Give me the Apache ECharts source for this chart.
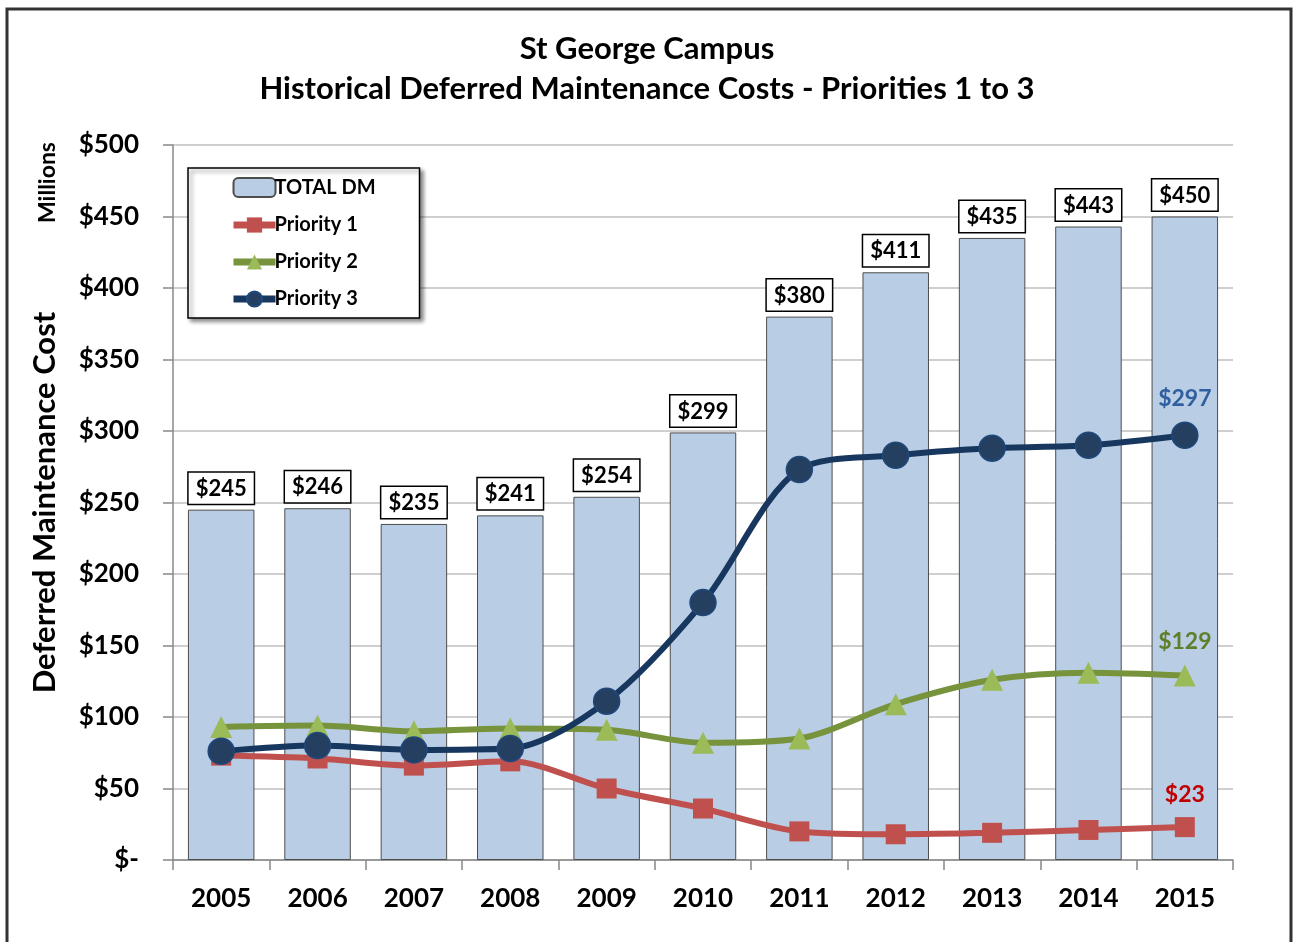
<!DOCTYPE html>
<html>
<head>
<meta charset="utf-8">
<script src="https://cdn.jsdelivr.net/npm/echarts@6/dist/echarts.min.js"></script>
<style>html,body{margin:0;padding:0;background:#fff}#c{width:1294px;height:942px}</style>
</head>
<body>
<div id="c"></div>
<script>
const years = ['2005','2006','2007','2008','2009','2010','2011','2012','2013','2014','2015'];
const totalDM = [245,246,235,241,254,299,380,411,435,443,450];
const priority1 = [73,71,66,69,50,36,20,18,19,21,23];
const priority2 = [93,94,90,92,91,82,85,109,126,131,129];
const priority3 = [76,80,77,78,111,180,273,283,288,290,297];
const yTicks = [0,50,100,150,200,250,300,350,400,450,500];

const F = 'Lato, "Open Sans", sans-serif';
function lastLabel(arr, color) {
  return arr.map((v, i) => i === arr.length - 1 ? {
    value: v,
    label: {show: true, position: 'top', distance: 11, formatter: '$' + v, color: color,
      fontFamily: F, fontWeight: 'bold', fontSize: 23}
  } : v);
}
const chart = echarts.init(document.getElementById('c'));
chart.setOption({
  animation: false,
  title: {
    text: 'St George Campus\nHistorical Deferred Maintenance Costs - Priorities 1 to 3',
    left: 'center', top: 24,
    textStyle: {fontFamily: F, fontWeight: 'bold', fontSize: 31, lineHeight: 40, color: '#000'}
  },
  legend: {
    orient: 'vertical', left: 188, top: 168, width: 230,
    padding: [9, 44, 9, 42],
    itemGap: 17, itemWidth: 42, itemHeight: 19,
    backgroundColor: '#fff', borderColor: '#000', borderWidth: 1.5,
    shadowBlur: 4, shadowOffsetX: 3, shadowOffsetY: 3, shadowColor: 'rgba(0,0,0,0.45)',
    lineStyle: {width: 7},
    textStyle: {fontFamily: F, fontWeight: 'bold', fontSize: 20, color: '#000', padding: [0,0,0,-6]},
    data: ['TOTAL DM', 'Priority 1', 'Priority 2', 'Priority 3']
  },
  graphic: [
    {type: 'rect', shape: {x: 7, y: 9, width: 1284, height: 945}, style: {fill: 'none', stroke: '#333', lineWidth: 3}, z: 100},
    {type: 'text', x: 59, y: 223, rotation: Math.PI / 2,
      style: {x: 0, y: 0, text: 'Millions', textAlign: 'left', textVerticalAlign: 'bottom',
        fontFamily: F, fontWeight: 'bold', fontSize: 23, fill: '#000'}}
  ],
  grid: {left: 173, right: 61, top: 145, bottom: 82},
  xAxis: {
    type: 'category', data: years, boundaryGap: true,
    axisLine: {lineStyle: {color: '#888', width: 1.5}},
    axisTick: {show: true, length: 10, interval: 0, lineStyle: {color: '#888', width: 1.5}},
    axisLabel: {interval: 0, margin: 26, fontFamily: F, fontWeight: 'bold', fontSize: 26, color: '#000'}
  },
  yAxis: {
    type: 'value', min: yTicks[0], max: yTicks[yTicks.length - 1], interval: 50,
    name: 'Deferred Maintenance Cost', nameLocation: 'middle', nameRotate: 90, nameGap: 113,
    nameTextStyle: {fontFamily: F, fontWeight: 'bold', fontSize: 31, color: '#000'},
    axisLine: {show: true, lineStyle: {color: '#888', width: 1.5}},
    axisTick: {show: true, length: 10, lineStyle: {color: '#888', width: 1.5}},
    axisLabel: {margin: 34, fontFamily: F, fontWeight: 'bold', fontSize: 26, color: '#000',
      formatter: v => v === 0 ? '$-' : '$' + v},
    splitLine: {lineStyle: {color: '#bfbfbf', width: 1.5}}
  },
  series: [
    {
      name: 'TOTAL DM', type: 'bar', data: totalDM, barWidth: '69%',
      itemStyle: {color: '#b9cde5', borderColor: '#4d4d4d', borderWidth: 1},
      label: {show: true, position: 'top', distance: 6, formatter: p => '$' + p.value,
        fontFamily: F, fontWeight: 'bold', fontSize: 22, color: '#000',
        backgroundColor: '#fff', borderColor: '#000', borderWidth: 1.5, padding: [5, 7, 4, 7]},
      z: 1
    },
    {
      name: 'Priority 1', type: 'line', smooth: 0.3, data: lastLabel(priority1, '#c00000'),
      symbol: 'rect', symbolSize: 20,
      lineStyle: {color: '#c0504d', width: 6},
      itemStyle: {color: '#c0504d'}, z: 3
    },
    {
      name: 'Priority 2', type: 'line', smooth: 0.3, data: lastLabel(priority2, '#5f7f2a'),
      symbol: 'triangle', symbolSize: 22,
      lineStyle: {color: '#77933c', width: 6},
      itemStyle: {color: '#9bbb59'}, z: 4
    },
    {
      name: 'Priority 3', type: 'line', smooth: 0.3, data: lastLabel(priority3, '#2f5f9e'),
      symbol: 'circle', symbolSize: 26,
      lineStyle: {color: '#17375e', width: 6},
      itemStyle: {color: '#243f60', borderColor: '#1f497d', borderWidth: 1.5}, z: 5
    }
  ]
});
</script>
</body>
</html>
